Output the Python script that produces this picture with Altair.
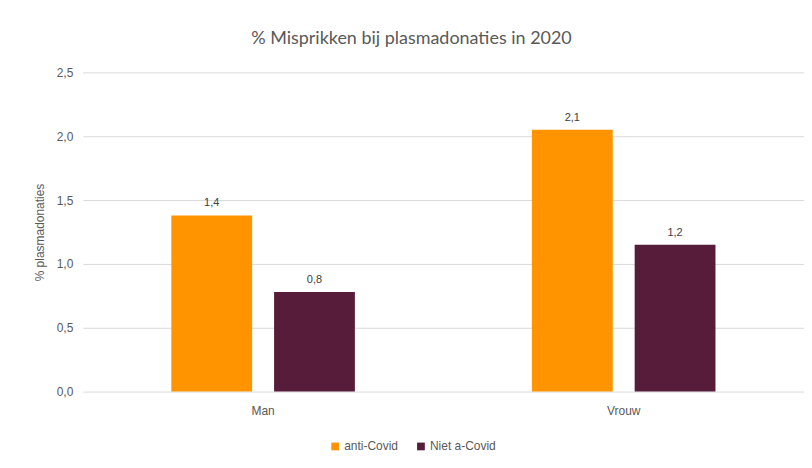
import altair as alt
import pandas as pd

categories = ["Man", "Man", "Vrouw", "Vrouw"]
series = ["anti-Covid", "Niet a-Covid", "anti-Covid", "Niet a-Covid"]
values = [1.38, 0.78, 2.05, 1.15]
labels = ["1,4", "0,8", "2,1", "1,2"]

series_order = ["anti-Covid", "Niet a-Covid"]
colors = ["#FF9300", "#561C3A"]
y_ticks = [0, 0.5, 1.0, 1.5, 2.0, 2.5]

df = pd.DataFrame({"geslacht": categories, "reeks": series, "waarde": values, "label": labels})

font = "Liberation Sans Narrow, Liberation Sans, Arial"

base = alt.Chart(df).encode(
    x=alt.X("geslacht:N", title=None,
            scale=alt.Scale(paddingInner=0, paddingOuter=0),
            axis=alt.Axis(labelAngle=0, domain=False, ticks=False, labelPadding=14,
                          labelFontSize=12, labelColor="#595959", labelFont=font)),
    xOffset=alt.XOffset("reeks:N", sort=series_order,
                        scale=alt.Scale(paddingInner=0.2136, paddingOuter=0.8617)),
)

bars = base.mark_bar().encode(
    y=alt.Y("waarde:Q", title="% plasmadonaties",
            scale=alt.Scale(domain=[0, 2.5], nice=False),
            axis=alt.Axis(values=y_ticks, domain=False, ticks=False, labelPadding=10,
                          labelExpr="replace(format(datum.value, '.1f'), '.', ',')",
                          labelFontSize=12, labelColor="#595959", labelFont=font,
                          titleFontSize=12, titleColor="#595959", titleFont=font,
                          titleFontWeight="normal", titlePadding=10,
                          gridColor="#D9D9D9", gridWidth=1)),
    color=alt.Color("reeks:N", sort=series_order,
                    scale=alt.Scale(domain=series_order, range=colors),
                    legend=alt.Legend(title=None, orient="none", direction="horizontal",
                                      legendX=247, legendY=369, symbolType="square",
                                      symbolSize=60, symbolStrokeWidth=0,
                                      labelFontSize=12, labelColor="#595959",
                                      labelFont=font, columnPadding=16, labelOffset=3)),
)

text = base.mark_text(dy=-12, fontSize=11, color="#404040", font=font).encode(
    y=alt.Y("waarde:Q"),
    text="label:N",
)

chart = alt.layer(bars, text).properties(
    width=723, height=320,
    title=alt.TitleParams("% Misprikken bij plasmadonaties in 2020", fontSize=18,
                          font="Lato", fontWeight="normal", color="#595959",
                          offset=18, dx=-32),
    autosize=alt.AutoSizeParams(type="none"),
    padding={"left": 75, "top": 64, "right": 0, "bottom": 60},
).configure_view(stroke=None)

chart.save("out.html", embed_options={"renderer": "svg", "actions": False})
